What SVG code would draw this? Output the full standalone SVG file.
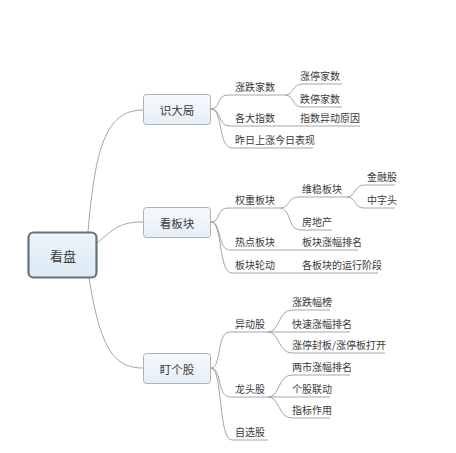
<svg xmlns="http://www.w3.org/2000/svg" width="456" height="453" viewBox="0 0 456 453">
<defs>
<linearGradient id="g1" x1="0" y1="0" x2="0" y2="1"><stop offset="0" stop-color="#f5f9fc"/><stop offset="1" stop-color="#e6eff7"/></linearGradient>
<linearGradient id="g0" x1="0" y1="0" x2="0" y2="1"><stop offset="0" stop-color="#eef5fb"/><stop offset="1" stop-color="#dce9f4"/></linearGradient>
</defs>
<style>
text{font-family:"Noto Sans CJK SC","Noto Sans",sans-serif;fill:#3a3a3a;font-size:10px}
.c{text-anchor:middle;dominant-baseline:central}
.t{font-size:11.5px}
.box{fill:url(#g1);stroke:#a9b3bb;stroke-width:1}
#conn path{fill:none;stroke:#a2a6aa;stroke-width:1}
</style>
<rect width="456" height="453" fill="#ffffff"/>
<g id="conn">
<path d="M88,232 C95,150 105,110 143,110"/>
<path d="M97,243 C115,228 120,222 143,222"/>
<path d="M89,278 C100,345 112,368 143,368"/>
<path d="M211,109 C221,109 216,95 228,95 H285"/>
<path d="M211,109 C222,109 217,126 230,126 H360"/>
<path d="M211,109 C223,109 218,148 232,148 H313"/>
<path d="M285,95 C294,95 292,84 302,84 H342"/>
<path d="M285,95 C294,95 292,107 302,107 H342"/>
<path d="M211,222 C221,222 216,208 228,208 H280"/>
<path d="M211,222 C222,222 217,250 230,250 H358"/>
<path d="M211,222 C223,222 218,273 232,273 H378"/>
<path d="M280,208 C290,208 288,197 298,197 H347"/>
<path d="M280,208 C291,208 288,230 300,230 H332"/>
<path d="M347,197 C356,197 354,185 364,185 H395"/>
<path d="M347,197 C356,197 354,208 364,208 H395"/>
<path d="M211,368 C222,368 216,332 230,332 H268"/>
<path d="M211,368 C222,368 217,397 230,397 H268"/>
<path d="M211,368 C223,368 218,440 232,440 H268"/>
<path d="M268,332 C280,332 278,310 292,310 H330"/>
<path d="M268,332 H350"/>
<path d="M268,332 C280,332 278,353 292,353 H385"/>
<path d="M268,397 C280,397 278,375 292,375 H350"/>
<path d="M268,397 H330"/>
<path d="M268,397 C280,397 278,418 292,418 H330"/>
</g>
<g id="root">
<rect x="28.5" y="232.5" width="68" height="45" rx="5" fill="url(#g0)" stroke="#627380" stroke-width="2.2"/>
<text x="63" y="255" class="c" style="font-size:13px">看盘</text>
</g>
<g id="n-shidaju"><rect class="box" x="143.5" y="94.5" width="67" height="30" rx="3"/><text x="177" y="109.5" class="c t">识大局</text></g>
<g id="n-kanbankuai"><rect class="box" x="143.5" y="207.5" width="67" height="30" rx="3"/><text x="177" y="222.5" class="c t">看板块</text></g>
<g id="n-dinggegu"><rect class="box" x="143.5" y="353.5" width="67" height="30" rx="3"/><text x="177" y="368.5" class="c t">盯个股</text></g>
<g id="n1"><text x="235" y="91">涨跌家数</text></g>
<g id="n2"><text x="300" y="80">涨停家数</text></g>
<g id="n3"><text x="300" y="103">跌停家数</text></g>
<g id="n4"><text x="235" y="122">各大指数</text></g>
<g id="n5"><text x="300" y="122">指数异动原因</text></g>
<g id="n6"><text x="235" y="144">昨日上涨今日表现</text></g>
<g id="n7"><text x="235" y="204">权重板块</text></g>
<g id="n8"><text x="302" y="193">维稳板块</text></g>
<g id="n9"><text x="367" y="181">金融股</text></g>
<g id="n10"><text x="367" y="204">中字头</text></g>
<g id="n11"><text x="302" y="226">房地产</text></g>
<g id="n12"><text x="235" y="246">热点板块</text></g>
<g id="n13"><text x="302" y="246">板块涨幅排名</text></g>
<g id="n14"><text x="235" y="269">板块轮动</text></g>
<g id="n15"><text x="302" y="269">各板块的运行阶段</text></g>
<g id="n16"><text x="235" y="328">异动股</text></g>
<g id="n17"><text x="292" y="306">涨跌幅榜</text></g>
<g id="n18"><text x="292" y="328">快速涨幅排名</text></g>
<g id="n19"><text x="292" y="349">涨停封板/涨停板打开</text></g>
<g id="n20"><text x="235" y="393">龙头股</text></g>
<g id="n21"><text x="292" y="371">两市涨幅排名</text></g>
<g id="n22"><text x="292" y="393">个股联动</text></g>
<g id="n23"><text x="292" y="414">指标作用</text></g>
<g id="n24"><text x="235" y="436">自选股</text></g>
</svg>
